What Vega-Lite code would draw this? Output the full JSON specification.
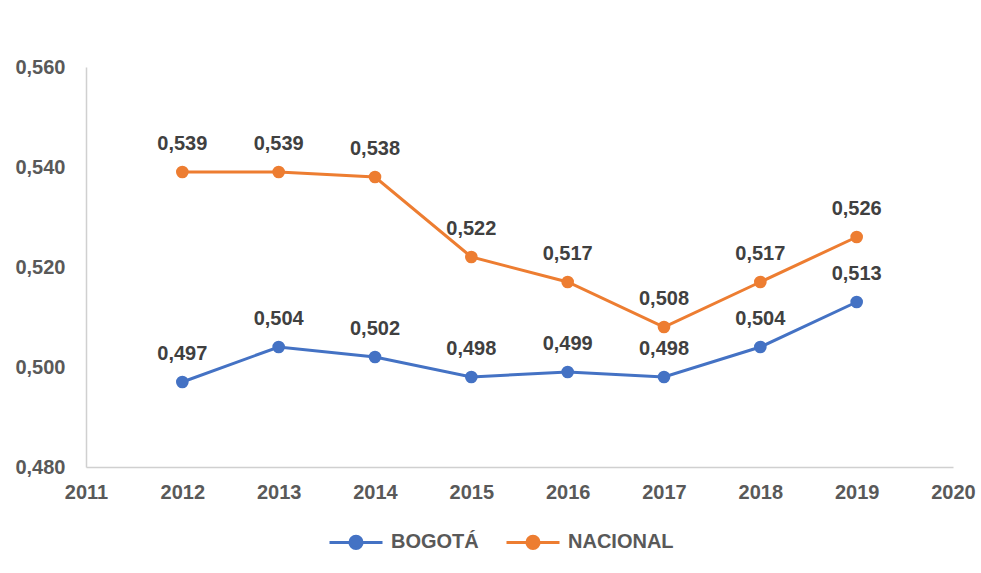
{
  "$schema": "https://vega.github.io/schema/vega-lite/v6.json",
  "autosize": "none",
  "width": 867,
  "height": 400,
  "padding": {"left": 86, "top": 67, "right": 28, "bottom": 106},
  "background": "white",
  "config": {
    "locale": {"number": {"decimal": ",", "thousands": ".", "grouping": [3], "currency": ["", ""]}},
    "view": {"stroke": null},
    "font": "Liberation Sans"
  },
  "data": {
    "values": [
      {"year": 2012, "serie": "BOGOTÁ", "value": 0.497},
      {"year": 2013, "serie": "BOGOTÁ", "value": 0.504},
      {"year": 2014, "serie": "BOGOTÁ", "value": 0.502},
      {"year": 2015, "serie": "BOGOTÁ", "value": 0.498},
      {"year": 2016, "serie": "BOGOTÁ", "value": 0.499},
      {"year": 2017, "serie": "BOGOTÁ", "value": 0.498},
      {"year": 2018, "serie": "BOGOTÁ", "value": 0.504},
      {"year": 2019, "serie": "BOGOTÁ", "value": 0.513},
      {"year": 2012, "serie": "NACIONAL", "value": 0.539},
      {"year": 2013, "serie": "NACIONAL", "value": 0.539},
      {"year": 2014, "serie": "NACIONAL", "value": 0.538},
      {"year": 2015, "serie": "NACIONAL", "value": 0.522},
      {"year": 2016, "serie": "NACIONAL", "value": 0.517},
      {"year": 2017, "serie": "NACIONAL", "value": 0.508},
      {"year": 2018, "serie": "NACIONAL", "value": 0.517},
      {"year": 2019, "serie": "NACIONAL", "value": 0.526}
    ]
  },
  "encoding": {
    "x": {
      "field": "year", "type": "quantitative",
      "scale": {"domain": [2011, 2020], "nice": false, "zero": false},
      "axis": {
        "title": null, "values": [2011, 2012, 2013, 2014, 2015, 2016, 2017, 2018, 2019, 2020],
        "format": "d", "grid": false, "ticks": false,
        "domainColor": "#d0d0d0", "domainWidth": 1.5,
        "labelFont": "Liberation Sans", "labelFontSize": 20, "labelFontWeight": "bold",
        "labelColor": "#595959", "labelPadding": 15, "labelFlush": false
      }
    },
    "y": {
      "field": "value", "type": "quantitative",
      "scale": {"domain": [0.48, 0.56], "nice": false, "zero": false},
      "axis": {
        "title": null, "values": [0.48, 0.5, 0.52, 0.54, 0.56],
        "format": ".3f", "grid": false, "ticks": false,
        "domainColor": "#d0d0d0", "domainWidth": 1.5,
        "labelFont": "Liberation Sans", "labelFontSize": 20, "labelFontWeight": "bold",
        "labelColor": "#595959", "labelPadding": 21
      }
    },
    "color": {
      "field": "serie", "type": "nominal",
      "scale": {"domain": ["BOGOTÁ", "NACIONAL"], "range": ["#4472C4", "#ED7D31"]},
      "legend": {
        "title": null, "orient": "none", "direction": "horizontal",
        "legendX": 242, "legendY": 447,
        "labelFont": "Liberation Sans", "labelFontSize": 20, "labelFontWeight": "bold",
        "labelColor": "#595959", "labelOffset": 7,
        "symbolType": "M-1,0L1,0M0.23,0A0.23,0.23 0 1,1 -0.23,0A0.23,0.23 0 1,1 0.23,0Z",
        "symbolSize": 2809, "symbolStrokeWidth": 3, "columnPadding": 21,
        "encode": {"symbols": {"update": {"stroke": {"scale": "color", "field": "value"}, "fill": {"scale": "color", "field": "value"}, "opacity": {"value": 1}}}}
      }
    }
  },
  "layer": [
    {"mark": {"type": "line", "strokeWidth": 3}},
    {"mark": {"type": "circle", "size": 160, "opacity": 1}},
    {
      "mark": {"type": "text", "dy": -28, "fontSize": 20, "fontWeight": "bold", "font": "Liberation Sans", "color": "#404040"},
      "encoding": {"text": {"field": "value", "type": "quantitative", "format": ".3f"}, "color": {"value": "#404040"}}
    }
  ]
}
